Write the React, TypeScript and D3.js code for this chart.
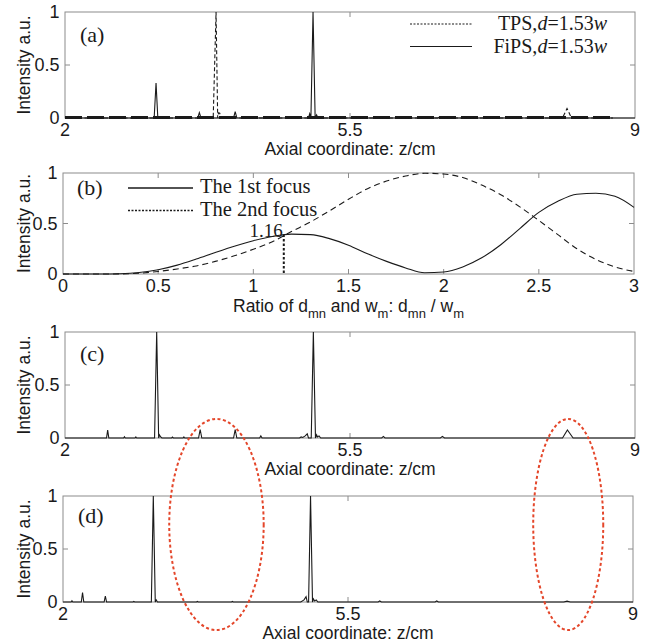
import React, { useEffect, useRef } from "react";
import * as d3 from "d3";

type Pt = [number, number];

// ---------- panel (a): TPS vs FiPS, d = 1.53w ----------
const tpsA: Pt[] = [
  [2, 0], [3.82, 0], [3.855, 1], [3.875, 0], [3.885, 0.05], [3.9, 0.045], [3.92, 0],
  [8.11, 0], [8.165, 0.09], [8.22, 0], [8.73, 0],
];
const fipsA: Pt[] = [
  [2, 0], [3.095, 0], [3.118, 0.33], [3.14, 0],
  [3.63, 0], [3.65, 0.05], [3.67, 0],
  [4.07, 0], [4.09, 0.06], [4.11, 0],
  [4.99, 0], [5.005, 0.04], [5.02, 0], [5.046, 1], [5.072, 0], [5.09, 0.03], [5.105, 0],
  [6.58, 0], [6.6, 0.01], [6.62, 0], [9, 0],
];

// ---------- panel (b): intensity vs d_mn / w_m ----------
const ratioB = [0, 0.1, 0.2, 0.3, 0.4, 0.5, 0.6, 0.7, 0.8, 0.9, 1.0, 1.1, 1.2, 1.3, 1.4, 1.5,
  1.6, 1.7, 1.8, 1.9, 2.0, 2.1, 2.2, 2.3, 2.4, 2.5, 2.6, 2.7, 2.8, 2.9, 3.0];
const focus1B = [0, 0, 0, 0.003, 0.015, 0.042, 0.088, 0.148, 0.213, 0.275, 0.33, 0.372, 0.395, 0.39, 0.35, 0.285,
  0.2, 0.125, 0.06, 0.012, 0.02, 0.07, 0.16, 0.29, 0.45, 0.61, 0.72, 0.79, 0.8, 0.77, 0.66];
const focus2B = [0, 0, 0, 0.001, 0.008, 0.025, 0.05, 0.08, 0.125, 0.18, 0.245, 0.32, 0.42, 0.515, 0.625, 0.74,
  0.845, 0.92, 0.97, 0.997, 0.99, 0.955, 0.88, 0.785, 0.665, 0.53, 0.39, 0.25, 0.145, 0.07, 0.025];
const markRatio = 1.16;
const markValue = 0.39;

// ---------- panel (c) ----------
const fipsC: Pt[] = [
  [2, 0], [2.51, 0], [2.524, 0.075], [2.538, 0],
  [2.72, 0], [2.73, 0.012], [2.74, 0],
  [2.86, 0], [2.87, 0.01], [2.88, 0],
  [3.1, 0], [3.126, 1], [3.15, 0], [3.16, 0.03], [3.175, 0.01], [3.19, 0],
  [3.31, 0], [3.32, 0.008], [3.33, 0],
  [3.45, 0], [3.46, 0.01], [3.47, 0],
  [3.64, 0], [3.66, 0.08], [3.68, 0],
  [4.07, 0], [4.09, 0.08], [4.11, 0],
  [4.39, 0], [4.405, 0.02], [4.42, 0],
  [4.88, 0], [4.9, 0.01], [4.92, 0.005], [4.95, 0.02], [4.975, 0.04], [4.99, 0],
  [5.024, 0], [5.05, 1], [5.076, 0], [5.09, 0.03], [5.1, 0.01], [5.12, 0.02], [5.14, 0],
  [5.89, 0], [5.91, 0.015], [5.93, 0],
  [6.61, 0], [6.635, 0.015], [6.66, 0],
  [8.11, 0], [8.17, 0.075], [8.24, 0], [9, 0],
];

// ---------- panel (d) ----------
const fipsD: Pt[] = [
  [2, 0], [2.1, 0], [2.11, 0.012], [2.12, 0],
  [2.225, 0], [2.24, 0.09], [2.255, 0],
  [2.505, 0], [2.52, 0.055], [2.535, 0],
  [2.86, 0], [2.87, 0.005], [2.88, 0],
  [3.085, 0], [3.109, 1], [3.133, 0], [3.145, 0.02], [3.16, 0],
  [3.64, 0], [3.65, 0.006], [3.66, 0],
  [4.07, 0], [4.08, 0.006], [4.09, 0],
  [4.92, 0], [4.96, 0.02], [4.985, 0.05], [5.0, 0],
  [5.016, 0], [5.04, 1], [5.064, 0], [5.075, 0.03], [5.09, 0.01], [5.11, 0.02], [5.13, 0],
  [5.87, 0], [5.89, 0.01], [5.91, 0],
  [6.57, 0], [6.59, 0.01], [6.61, 0],
  [8.15, 0], [8.19, 0.008], [8.23, 0], [9, 0],
];

const zTicks = [2, 5.5, 9];
const ratioTicks = [0, 0.5, 1, 1.5, 2, 2.5, 3];
const intensityTicks = [0, 0.5, 1];

// red dotted ellipses spanning (c) and (d): centre z, half width in z
const highlightZ = [3.86, 8.18];
const highlightHalf = [0.58, 0.43];
const highlightTop = 0.18; // intensity on panel (c)
const highlightBottom = -0.265; // intensity on panel (d)

const SANS = "'Liberation Sans', Arial, Helvetica, sans-serif";
const SERIF = "'Liberation Serif', 'Times New Roman', serif";
const INK = "#1a1a1a";
const FRAME = "#8c8c8c";

const W = 652;
const H = 644;

function frame(svg, x, y, xTicks, yTicks, xFmt) {
  const [x0, x1] = x.range();
  const [yb, yt] = y.range();
  const g = svg.append("g");

  g.append("rect")
    .attr("x", x0).attr("y", yt)
    .attr("width", x1 - x0).attr("height", yb - yt)
    .attr("fill", "none").attr("stroke", FRAME).attr("stroke-width", 1);

  const xd = x.domain();
  xTicks.filter(t => t !== xd[0] && t !== xd[1]).forEach(t => {
    g.append("line").attr("x1", x(t)).attr("x2", x(t)).attr("y1", yt).attr("y2", yt + 5).attr("stroke", FRAME);
    g.append("line").attr("x1", x(t)).attr("x2", x(t)).attr("y1", yb).attr("y2", yb - 5).attr("stroke", FRAME);
  });
  const yd = y.domain();
  yTicks.filter(t => t !== yd[0] && t !== yd[1]).forEach(t => {
    g.append("line").attr("x1", x0).attr("x2", x0 + 5).attr("y1", y(t)).attr("y2", y(t)).attr("stroke", FRAME);
    g.append("line").attr("x1", x1).attr("x2", x1 - 5).attr("y1", y(t)).attr("y2", y(t)).attr("stroke", FRAME);
  });

  g.selectAll(".xt").data(xTicks).enter().append("text")
    .attr("x", d => x(d)).attr("y", yb + 17.5)
    .attr("text-anchor", "middle")
    .attr("font-family", SANS).attr("font-size", 18).attr("fill", INK)
    .text(xFmt);

  g.selectAll(".yt").data(yTicks).enter().append("text")
    .attr("x", x0 - 5.5).attr("y", d => y(d) + 6)
    .attr("text-anchor", "end")
    .attr("font-family", SANS).attr("font-size", 18).attr("fill", INK)
    .text(d => String(d));

  g.append("text")
    .attr("transform", `translate(30, ${(yt + yb) / 2}) rotate(-90)`)
    .attr("text-anchor", "middle")
    .attr("font-family", SANS).attr("font-size", 17.5).attr("fill", INK)
    .text("Intensity a.u.");

  return g;
}

function panelTag(svg, x, y, label) {
  svg.append("text")
    .attr("x", x).attr("y", y)
    .attr("font-family", SERIF).attr("font-size", 22).attr("fill", INK)
    .text(label);
}

function axialLabel(svg, x, y) {
  const [x0, x1] = x.range();
  svg.append("text")
    .attr("x", (x0 + x1) / 2).attr("y", y.range()[0] + 37)
    .attr("text-anchor", "middle")
    .attr("font-family", SANS).attr("font-size", 17.5).attr("fill", INK)
    .text("Axial coordinate: z/cm");
}

export default function App() {
  const ref = useRef<SVGSVGElement>(null);

  useEffect(() => {
    const svg = d3.select(ref.current);
    svg.selectAll("*").remove();

    const zFmt = d => String(d);
    const line = (x, y) => d3.line<Pt>().x(d => x(d[0])).y(d => y(d[1]));

    // ==========================
    // (a)
    // ==========================
    const xA = d3.scaleLinear().domain([2, 9]).range([65, 635]);
    const yA = d3.scaleLinear().domain([0, 1]).range([118, 12]);
    frame(svg, xA, yA, zTicks, intensityTicks, zFmt);
    axialLabel(svg, xA, yA);

    svg.append("path").datum(fipsA)
      .attr("d", line(xA, yA)).attr("fill", "none")
      .attr("stroke", INK).attr("stroke-width", 1.1);

    // TPS: its near-zero floor renders as heavy dashes
    const tpsExtent = d3.extent(tpsA, d => d[0]);
    svg.append("line")
      .attr("x1", xA(tpsExtent[0])).attr("x2", xA(tpsExtent[1]))
      .attr("y1", yA(0) - 0.5).attr("y2", yA(0) - 0.5)
      .attr("stroke", INK).attr("stroke-width", 3).attr("stroke-dasharray", "17 5");
    svg.append("path").datum(tpsA)
      .attr("d", line(xA, yA)).attr("fill", "none")
      .attr("stroke", INK).attr("stroke-width", 1.1).attr("stroke-dasharray", "4 2.5");

    panelTag(svg, 80, 42, "(a)");

    // legend (a)
    const legA = [
      { name: "TPS", dash: "2 1.5", y: 30 },
      { name: "FiPS", dash: null, y: 52.5 },
    ];
    legA.forEach(l => {
      svg.append("line")
        .attr("x1", 410).attr("x2", 472).attr("y1", l.y - 6).attr("y2", l.y - 6)
        .attr("stroke", INK).attr("stroke-width", 1.2)
        .attr("stroke-dasharray", l.dash);
      const t = svg.append("text")
        .attr("x", 607).attr("y", l.y).attr("text-anchor", "end")
        .attr("font-family", SERIF).attr("font-size", 20).attr("fill", INK);
      t.append("tspan").text(`${l.name},`);
      t.append("tspan").attr("font-style", "italic").text("d");
      t.append("tspan").text("=1.53");
      t.append("tspan").attr("font-style", "italic").text("w");
    });

    // ==========================
    // (b)
    // ==========================
    const xB = d3.scaleLinear().domain([0, 3]).range([63, 634]);
    const yB = d3.scaleLinear().domain([0, 1]).range([274, 173]);
    frame(svg, xB, yB, ratioTicks, intensityTicks, d => String(d));

    const curveB = (vals) => d3.line<number>()
      .x((d, i) => xB(ratioB[i]))
      .y(d => yB(d))
      .curve(d3.curveMonotoneX)(vals);

    svg.append("path").attr("d", curveB(focus1B)).attr("fill", "none")
      .attr("stroke", INK).attr("stroke-width", 1.1);
    svg.append("path").attr("d", curveB(focus2B)).attr("fill", "none")
      .attr("stroke", INK).attr("stroke-width", 1.1).attr("stroke-dasharray", "6 4");

    svg.append("line")
      .attr("x1", xB(markRatio)).attr("x2", xB(markRatio))
      .attr("y1", yB(markValue)).attr("y2", yB(0))
      .attr("stroke", INK).attr("stroke-width", 2).attr("stroke-dasharray", "2.5 2");
    svg.append("text")
      .attr("x", xB(markRatio) - 1).attr("y", yB(markValue) + 2.5)
      .attr("text-anchor", "end")
      .attr("font-family", SERIF).attr("font-size", 19).attr("fill", INK)
      .text(String(markRatio));

    const ratioLabel = svg.append("text")
      .attr("x", (xB.range()[0] + xB.range()[1]) / 2).attr("y", yB(0) + 38)
      .attr("text-anchor", "middle")
      .attr("font-family", SANS).attr("font-size", 17.5).attr("fill", INK);
    [["Ratio of d", "mn"], [" and w", "m"], [": d", "mn"], [" / w", "m"]].forEach(([main, sub], i) => {
      ratioLabel.append("tspan").attr("dy", i === 0 ? 0 : -6).text(main);
      ratioLabel.append("tspan").attr("font-size", 13).attr("dy", 6).text(sub);
    });

    panelTag(svg, 77, 195, "(b)");
    const legB = [
      { name: "The 1st focus", dash: null, y: 193 },
      { name: "The 2nd focus", dash: "2 1.5", y: 215.5 },
    ];
    legB.forEach(l => {
      svg.append("line")
        .attr("x1", 128).attr("x2", 193).attr("y1", l.y - 5).attr("y2", l.y - 5)
        .attr("stroke", INK).attr("stroke-width", 1.3)
        .attr("stroke-dasharray", l.dash);
      svg.append("text")
        .attr("x", 200).attr("y", l.y)
        .attr("font-family", SERIF).attr("font-size", 20.5).attr("fill", INK)
        .text(l.name);
    });

    // ==========================
    // (c)
    // ==========================
    const xC = d3.scaleLinear().domain([2, 9]).range([65, 635]);
    const yC = d3.scaleLinear().domain([0, 1]).range([438, 332]);
    frame(svg, xC, yC, zTicks, intensityTicks, zFmt);
    axialLabel(svg, xC, yC);
    svg.append("path").datum(fipsC)
      .attr("d", line(xC, yC)).attr("fill", "none")
      .attr("stroke", INK).attr("stroke-width", 1.1);
    panelTag(svg, 80, 361, "(c)");

    // ==========================
    // (d)
    // ==========================
    const xD = d3.scaleLinear().domain([2, 9]).range([63, 633]);
    const yD = d3.scaleLinear().domain([0, 1]).range([602, 496]);
    frame(svg, xD, yD, zTicks, intensityTicks, zFmt);
    axialLabel(svg, xD, yD);
    svg.append("path").datum(fipsD)
      .attr("d", line(xD, yD)).attr("fill", "none")
      .attr("stroke", INK).attr("stroke-width", 1.1);
    panelTag(svg, 78, 523, "(d)");

    // ==========================
    // red highlight ellipses
    // ==========================
    const top = yC(highlightTop);
    const bottom = yD(highlightBottom);
    highlightZ.forEach((z, i) => {
      svg.append("ellipse")
        .attr("cx", xC(z)).attr("cy", (top + bottom) / 2)
        .attr("rx", xC(z + highlightHalf[i]) - xC(z)).attr("ry", (bottom - top) / 2)
        .attr("fill", "none").attr("stroke", "#e4462a")
        .attr("stroke-width", 2).attr("stroke-dasharray", "3 2.5");
    });
  }, []);

  return (
    <svg
      ref={ref}
      width={W}
      height={H}
      style={{ position: "absolute", left: 0, top: 0, background: "#fff" }}
    />
  );
}
